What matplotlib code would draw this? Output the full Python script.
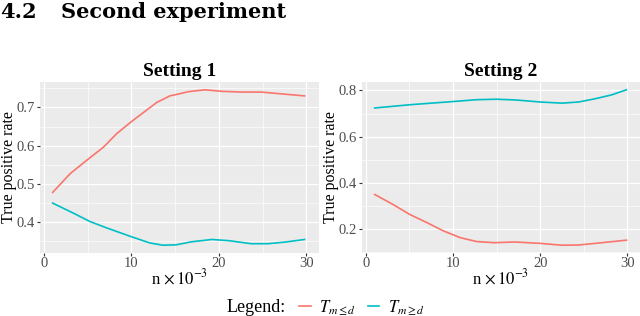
import matplotlib
matplotlib.use("Agg")
import matplotlib.pyplot as plt
from matplotlib.lines import Line2D
from matplotlib.ticker import MultipleLocator

plt.rcParams["font.family"] = ["Liberation Serif", "DejaVu Serif"]
plt.rcParams["mathtext.fontset"] = "stix"

RED, CYAN = "#F8766D", "#00BFC4"

# Setting 1
x1_le = [1, 3, 4.9, 6.8, 8.3, 9.9, 11.4, 12.9, 14.4, 15.6, 16.5, 18.4, 20.3,
         22.6, 24.9, 26.8, 29.8]
s1_le = [0.478, 0.527, 0.562, 0.596, 0.631, 0.661, 0.687, 0.713, 0.730, 0.736,
         0.741, 0.746, 0.742, 0.740, 0.740, 0.736, 0.730]
x1_ge = [1, 3.35, 5.25, 7.2, 9.9, 12.1, 13.6, 15.1, 16.9, 19.2, 21.1, 23.7,
         25.6, 27.5, 29.8]
s1_ge = [0.450, 0.424, 0.402, 0.385, 0.363, 0.346, 0.340, 0.341, 0.349, 0.355,
         0.352, 0.344, 0.344, 0.348, 0.355]

# Setting 2
x2_le = [1, 3.1, 5, 7, 8.9, 10.8, 12.7, 14.7, 17.1, 20, 22.5, 24.4, 26.3, 29.9]
s2_le = [0.349, 0.306, 0.263, 0.227, 0.191, 0.162, 0.145, 0.140, 0.143, 0.137,
         0.129, 0.130, 0.137, 0.151]
x2_ge = [1, 5, 10, 12.7, 15, 17.1, 20, 22.5, 24.4, 26.3, 28.2, 29.9]
s2_ge = [0.724, 0.738, 0.752, 0.760, 0.762, 0.759, 0.750, 0.745, 0.750, 0.764,
         0.781, 0.803]

fig = plt.figure(figsize=(6.4, 3.16), dpi=100)
ax1 = fig.add_axes([40 / 640, 63 / 316, 279 / 640, 171 / 316])
ax2 = fig.add_axes([362 / 640, 63 / 316, 278 / 640, 171 / 316])

panels = [
    (ax1, "Setting 1", x1_le, s1_le, x1_ge, s1_ge, 0.1),
    (ax2, "Setting 2", x2_le, s2_le, x2_ge, s2_ge, 0.2),
]
for ax, title, xl, le, xg, ge, ystep in panels:
    ax.set_facecolor("#EBEBEB")
    ax.plot(xl, le, color=RED, lw=1.2, solid_joinstyle="round")
    ax.plot(xg, ge, color=CYAN, lw=1.2, solid_joinstyle="round")
    lo, hi = min(le + ge), max(le + ge)
    pad = (hi - lo) * 0.05
    ax.set_ylim(lo - pad, hi + pad)
    ax.set_xlim(-0.45, 31.45)
    ax.xaxis.set_major_locator(MultipleLocator(10))
    ax.xaxis.set_minor_locator(MultipleLocator(5))
    ax.yaxis.set_major_locator(MultipleLocator(ystep))
    ax.yaxis.set_minor_locator(MultipleLocator(ystep / 2))
    ax.grid(which="major", color="white", lw=0.9)
    ax.grid(which="minor", color="white", lw=0.45)
    ax.set_axisbelow(True)
    for sp in ax.spines.values():
        sp.set_visible(False)
    ax.tick_params(which="both", length=2, color="#333333", labelsize=10.5,
                   labelcolor="#4D4D4D", pad=1.5)
    ax.tick_params(axis="x", pad=0.8)
    ax.tick_params(which="minor", length=0)
    ax.set_title(title, fontsize=14, fontweight="bold", pad=4)
    ax.set_xlabel(r"n $\times\,10^{-3}$", fontsize=12, labelpad=-1)
    ax.set_ylabel("True positive rate", fontsize=11.5, labelpad=0)

fig.text(0.0, 0.995, "4.2", family="DejaVu Serif", fontweight="bold",
         fontsize=15, va="top", ha="left")
fig.text(61 / 640, 0.995, "Second experiment", family="DejaVu Serif",
         fontweight="bold", fontsize=15, va="top", ha="left")

fig.text(227 / 640, 0.0, "Legend:", fontsize=13, va="bottom", ha="left")
handles = [Line2D([], [], color=RED, lw=1.2), Line2D([], [], color=CYAN, lw=1.2)]
fig.legend(handles, [r"$T_{m\leq d}$", r"$T_{m\geq d}$"], ncol=2, frameon=False,
           loc="lower left", bbox_to_anchor=(284 / 640, -0.05), fontsize=12,
           handlelength=0.7, handletextpad=0.5, columnspacing=0.7)

fig.savefig("out.png", dpi=100)
